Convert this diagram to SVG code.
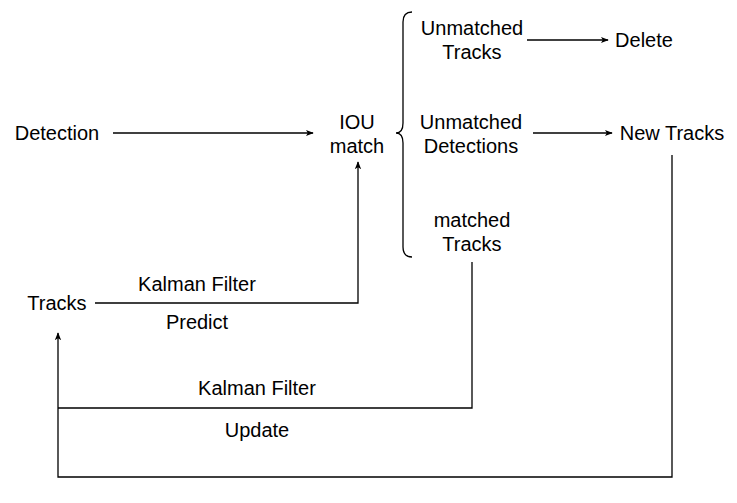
<svg xmlns="http://www.w3.org/2000/svg" width="737" height="503" viewBox="0 0 737 503">
<defs>
<style>
text{font-family:"Liberation Sans",Arial,sans-serif;font-size:20px;fill:#000;text-anchor:middle}
.c{fill:none;stroke:#000;stroke-width:1.3}
</style>
<marker id="a" viewBox="0 0 10 10" refX="9" refY="5" markerWidth="8" markerHeight="8" markerUnits="userSpaceOnUse" orient="auto">
<path d="M0,1 L10,5 L0,9 L2.5,5 Z" fill="#000"/>
</marker>
</defs>
<rect width="737" height="503" fill="#fff"/>
<g id="connectors">
<path class="c" d="M113,133 H313" marker-end="url(#a)"/>
<path class="c" d="M95,303 H358 V162" marker-end="url(#a)"/>
<path class="c" d="M527,40 H608" marker-end="url(#a)"/>
<path class="c" d="M533,133 H612" marker-end="url(#a)"/>
<path class="c" d="M472,262 V408 H58"/>
<path class="c" d="M672,155 V477 H58 V333" marker-end="url(#a)"/>
<path class="c" d="M412,12 Q403,12 403,22 V123 Q403,133 396,133 Q403,133 403,143 V247 Q403,257 412,257"/>
</g>
<g id="detection"><text x="57" y="140">Detection</text></g>
<g id="iou"><text x="357" y="129">IOU</text><text x="357" y="153">match</text></g>
<g id="tracks"><text x="57" y="310">Tracks</text></g>
<g id="unmatched-tracks"><text x="472" y="35">Unmatched</text><text x="472" y="59">Tracks</text></g>
<g id="delete"><text x="644" y="47">Delete</text></g>
<g id="unmatched-detections"><text x="471" y="129">Unmatched</text><text x="471" y="153">Detections</text></g>
<g id="new-tracks"><text x="672" y="140">New Tracks</text></g>
<g id="matched-tracks"><text x="472" y="227">matched</text><text x="472" y="251">Tracks</text></g>
<g id="labels">
<text x="197" y="291">Kalman Filter</text>
<text x="197" y="329">Predict</text>
<text x="257" y="395">Kalman Filter</text>
<text x="257" y="437">Update</text>
</g>
</svg>
